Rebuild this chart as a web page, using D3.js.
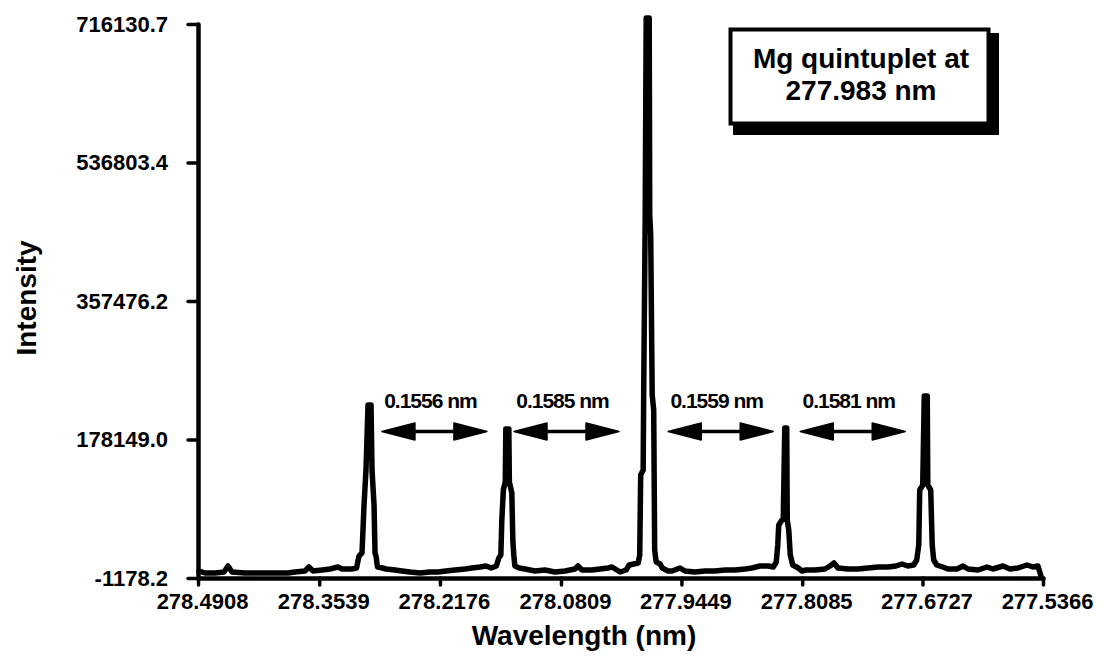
<!DOCTYPE html>
<html>
<head>
<meta charset="utf-8">
<script src="https://cdn.jsdelivr.net/npm/d3@7"></script>
<style>
  html, body { margin: 0; padding: 0; background: #fff; }
  svg { display: block; }
</style>
</head>
<body>
<svg id="chart" width="1104" height="658"></svg>
<script>
// ---- Axis ticks (nm and counts) ----
const xTicks = [278.4908, 278.3539, 278.2176, 278.0809, 277.9449, 277.8085, 277.6727, 277.5366];
const yTicks = [-1178.2, 178149.0, 357476.2, 536803.4, 716130.7];
const yTickLabels = ["-1178.2", "178149.0", "357476.2", "536803.4", "716130.7"];

// ---- Mg I quintuplet lines (nm) and the gaps between neighbours ----
const lineCentres = [278.2971, 278.1415, 277.9830, 277.8271, 277.6690];
const gapLabels = ["0.1556 nm", "0.1585 nm", "0.1559 nm", "0.1581 nm"];
const boxLines = ["Mg quintuplet at", "277.983 nm"];

// ---- Background trace between the lines: [wavelength nm, intensity] ----
const baseline1 = [[278.4897, 7885], [278.4829, 5296], [278.4716, 5296], [278.4614, 6591], [278.4569, 14359],
  [278.4524, 6591], [278.4377, 5296], [278.4208, 5296], [278.4038, 5296], [278.3892, 5296], [278.3813, 6591],
  [278.3700, 7885], [278.3655, 13065], [278.3609, 7885], [278.3508, 9180], [278.3417, 10475], [278.3327, 13065],
  [278.3282, 10475]];
const baseline2 = [[278.2785, 10475], [278.2683, 9180], [278.2604, 7885], [278.2514, 6591], [278.2401, 5296],
  [278.2288, 6591], [278.2198, 6591], [278.2108, 7885], [278.2006, 9180], [278.1893, 10475], [278.1814, 11770],
  [278.1724, 13065], [278.1656, 14359]];
const baseline3 = [[278.1215, 10475], [278.1102, 7885], [278.0990, 9180], [278.0877, 6591], [278.0764, 7885],
  [278.0651, 10475], [278.0617, 14359], [278.0572, 9180], [278.0459, 9180], [278.0368, 10475], [278.0278, 11770],
  [278.0233, 13065]];
const baseline4 = [[277.9555, 7885], [277.9465, 11770], [277.9409, 7885], [277.9296, 6591], [277.9183, 7885],
  [277.9070, 7885], [277.8957, 9180], [277.8844, 9180], [277.8731, 10475], [277.8652, 11770], [277.8562, 14359]];
const baseline5 = [[277.8087, 7885], [277.8042, 9180], [277.7941, 9180], [277.7828, 10475], [277.7771, 14359],
  [277.7726, 18244], [277.7681, 11770], [277.7568, 10475], [277.7455, 10475], [277.7342, 11770], [277.7229, 13065],
  [277.7116, 13065], [277.7026, 14359], [277.6958, 16949]];
const baseline6 = [[277.6439, 10475], [277.6337, 10475], [277.6269, 14359], [277.6213, 10475], [277.6100, 9180],
  [277.5998, 13065], [277.5931, 10475], [277.5818, 14359], [277.5739, 10475], [277.5648, 11770], [277.5547, 15654],
  [277.5479, 13065], [277.5423, 14359], [277.5389, 1411]];

// ---- Line profiles: [offset from line centre in nm (+ = longer wavelength), intensity] ----
const profile1 = [[0.0203, 10475], [0.0147, 11770], [0.0119, 27307], [0.0085, 31192], [0.0062, 93341],
  [0.0040, 138658], [0.0017, 222819], [-0.0017, 222819], [-0.0028, 138658], [-0.0051, 93341], [-0.0062, 31192],
  [-0.0073, 27307], [-0.0090, 13065], [-0.0147, 11770]];
const profile2 = [[0.0181, 11770], [0.0124, 14359], [0.0096, 24718], [0.0073, 28602], [0.0062, 73919],
  [0.0045, 112763], [0.0023, 123121], [0.0017, 191744], [-0.0017, 191744], [-0.0023, 123121], [-0.0051, 108878],
  [-0.0062, 48024], [-0.0073, 28602], [-0.0085, 14359], [-0.0136, 11770]];
const profile3 = [[0.0311, 6591], [0.0243, 9180], [0.0209, 15654], [0.0107, 18244], [0.0090, 28602],
  [0.0079, 132184], [0.0051, 138658], [0.0045, 242241], [0.0028, 468827], [0.0017, 723899], [-0.0017, 723899],
  [-0.0023, 468827], [-0.0034, 442932], [-0.0051, 235767], [-0.0068, 216345], [-0.0079, 35076], [-0.0096, 19538],
  [-0.0141, 16949], [-0.0164, 11770], [-0.0231, 7885]];
const profile4 = [[0.0198, 14359], [0.0141, 13065], [0.0107, 19538], [0.0090, 41550], [0.0079, 67445],
  [0.0028, 76509], [0.0011, 193039], [-0.0011, 193039], [-0.0017, 73919], [-0.0034, 60971], [-0.0051, 28602],
  [-0.0079, 15654], [-0.0141, 11770]];
const profile5 = [[0.0203, 14359], [0.0136, 15654], [0.0102, 22128], [0.0079, 41550], [0.0068, 112763],
  [0.0034, 119237], [0.0017, 234472], [-0.0017, 234472], [-0.0023, 119237], [-0.0056, 112763], [-0.0073, 41550],
  [-0.0090, 22128], [-0.0124, 15654], [-0.0192, 13065]];

// ---- Layout ----
const W = 1104, H = 658;
const FONT = "'Liberation Sans', Arial, Helvetica, sans-serif";
const plot = { left: 198, right: 1043, top: 24, bottom: 578 };

const x = d3.scaleLinear().domain([xTicks[0], xTicks[xTicks.length - 1]]).range([plot.left, plot.right]);
const y = d3.scaleLinear().domain([yTicks[0], yTicks[yTicks.length - 1]]).range([plot.bottom, plot.top]);

const svg = d3.select("#chart").attr("font-family", FONT);
svg.append("rect").attr("width", W).attr("height", H).attr("fill", "#fff");

// Axes
const gx = svg.append("g")
  .attr("transform", `translate(0,${plot.bottom})`)
  .call(d3.axisBottom(x).tickValues(xTicks).tickFormat(d3.format(".4f"))
    .tickSize(7).tickSizeOuter(0).tickPadding(8));
const gy = svg.append("g")
  .attr("transform", `translate(${plot.left},0)`)
  .call(d3.axisLeft(y).tickValues(yTicks).tickFormat((d, i) => yTickLabels[i])
    .tickSize(10).tickSizeOuter(0).tickPadding(20));

[gx, gy].forEach(g => {
  g.attr("font-family", FONT).attr("font-size", 22).attr("font-weight", "bold");
  g.select(".domain").attr("stroke", "#000").attr("stroke-width", 4.5).attr("stroke-linecap", "round");
  g.selectAll(".tick line").attr("stroke", "#000").attr("stroke-width", 3.5).attr("stroke-linecap", "round");
  g.selectAll(".tick text").attr("fill", "#000");
});
gx.selectAll(".tick text").attr("dx", 4);

// Spectrum trace: background pieces joined with each line profile placed at its centre
const placed = (profile, c) => profile.map(([d, v]) => [c + d, v]);
const trace = [].concat(
  baseline1, placed(profile1, lineCentres[0]),
  baseline2, placed(profile2, lineCentres[1]),
  baseline3, placed(profile3, lineCentres[2]),
  baseline4, placed(profile4, lineCentres[3]),
  baseline5, placed(profile5, lineCentres[4]),
  baseline6
);
svg.append("path")
  .datum(trace)
  .attr("fill", "none")
  .attr("stroke", "#000")
  .attr("stroke-width", 5.5)
  .attr("stroke-linejoin", "round")
  .attr("stroke-linecap", "round")
  .attr("d", d3.line().x(d => x(d[0])).y(d => y(d[1])));

// Axis titles
svg.append("text")
  .attr("x", 584).attr("y", 645)
  .attr("text-anchor", "middle")
  .attr("font-size", 28).attr("font-weight", "bold")
  .text("Wavelength (nm)");
svg.append("text")
  .attr("transform", "translate(36,298) rotate(-90)")
  .attr("text-anchor", "middle")
  .attr("font-size", 28).attr("font-weight", "bold")
  .text("Intensity");

// Separation arrows between neighbouring lines
const arrowShift = [-4, -11, 4, -3];
const arrowLen = 105, headLen = 33, headHalf = 8.5, arrowY = 431.5;
const gaps = svg.append("g");
gapLabels.forEach((lab, i) => {
  const cx = (x(lineCentres[i]) + x(lineCentres[i + 1])) / 2 + arrowShift[i];
  const xl = cx - arrowLen / 2, xr = cx + arrowLen / 2;
  gaps.append("line")
    .attr("x1", xl + headLen - 2).attr("x2", xr - headLen + 2)
    .attr("y1", arrowY).attr("y2", arrowY)
    .attr("stroke", "#000").attr("stroke-width", 3.5);
  gaps.append("path")
    .attr("d", `M${xl},${arrowY}L${xl + headLen},${arrowY - headHalf}L${xl + headLen},${arrowY + headHalf}Z` +
               `M${xr},${arrowY}L${xr - headLen},${arrowY - headHalf}L${xr - headLen},${arrowY + headHalf}Z`)
    .attr("fill", "#000").attr("stroke", "#000").attr("stroke-width", 1.5).attr("stroke-linejoin", "round");
  gaps.append("text")
    .attr("x", cx - 4).attr("y", 408)
    .attr("text-anchor", "middle")
    .attr("font-size", 21).attr("font-weight", "bold")
    .attr("letter-spacing", "-1px")
    .text(lab);
});

// Caption box with drop shadow
const box = svg.append("g");
box.append("rect").attr("x", 733).attr("y", 33).attr("width", 266).attr("height", 102).attr("fill", "#000");
box.append("rect").attr("x", 730.5).attr("y", 29.5).attr("width", 258).attr("height", 94)
  .attr("fill", "#fff").attr("stroke", "#000").attr("stroke-width", 4);
box.selectAll("text.cap").data(boxLines).join("text")
  .attr("class", "cap")
  .attr("x", 861).attr("y", (d, i) => 68 + i * 32)
  .attr("text-anchor", "middle")
  .attr("font-size", 28).attr("font-weight", "bold")
  .text(d => d);
</script>
</body>
</html>
